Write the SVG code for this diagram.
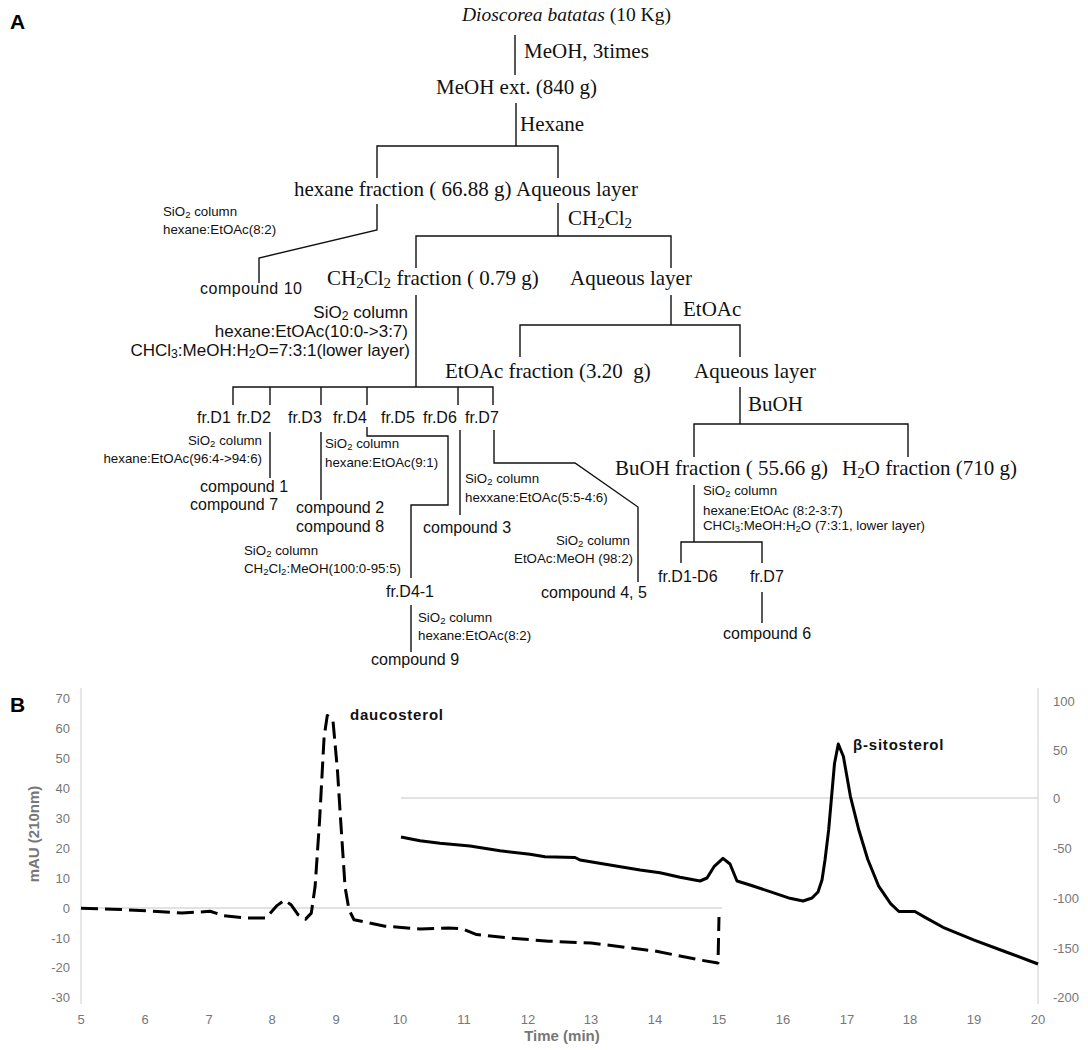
<svg xmlns="http://www.w3.org/2000/svg" width="1088" height="1050" viewBox="0 0 1088 1050">
<style>
.tm{font-family:"Liberation Serif","Times New Roman",serif;font-size:21px;fill:#111;white-space:pre}
.tm19{font-family:"Liberation Serif","Times New Roman",serif;font-size:19.5px;fill:#111}
.ar{font-family:"Liberation Sans",Arial,sans-serif;font-size:16px;fill:#111}
.ar17{font-family:"Liberation Sans",Arial,sans-serif;font-size:17px;fill:#111}
.sm{font-family:"Liberation Sans",Arial,sans-serif;font-size:13.3px;fill:#111}
.sub{font-size:72%;baseline-shift:-0.2em}
.lbl{font-family:"Liberation Sans",Arial,sans-serif;font-size:21px;font-weight:bold;fill:#000}
.ln{fill:none;stroke:#111;stroke-width:1.4}
.ax{font-family:"Liberation Sans",Arial,sans-serif;font-size:13px;fill:#777}
.axt{font-family:"Liberation Sans",Arial,sans-serif;font-size:15px;font-weight:bold;fill:#777}
.grid{stroke:#d9d9d9;stroke-width:1.3;fill:none}
.pk{font-family:"Liberation Sans",Arial,sans-serif;font-size:15px;font-weight:bold;fill:#111;letter-spacing:0.8px}
</style>
<rect width="1088" height="1050" fill="#fff"/>
<text class="lbl" x="10" y="29">A</text>
<text class="lbl" x="10" y="712">B</text>

<g id="connectors">
<path class="ln" d="M515 35V75"/>
<path class="ln" d="M516 103V146M377 178V146H558V178"/>
<path class="ln" d="M377 204V230L259 258V283"/>
<path class="ln" d="M558 203V236M416 268V236H671V268"/>
<path class="ln" d="M671 295V325M520 357V325H740V357"/>
<path class="ln" d="M740 387V424M694 457V424H908V457"/>
<path class="ln" d="M416 295V387M233 405V387H493V405M270 387V405M321 387V405M367 387V405M458 387V405"/>
<path class="ln" d="M270 432V478"/>
<path class="ln" d="M321 432V500"/>
<path class="ln" d="M367 427V436H448V505H411V578"/>
<path class="ln" d="M411 605V652"/>
<path class="ln" d="M460 430V515"/>
<path class="ln" d="M494 430V463H575L638 507V582"/>
<path class="ln" d="M694 485V542M681 563V542H762V563"/>
<path class="ln" d="M762 592V623"/>
</g>

<g id="n-dioscorea"><text class="tm19" x="462" y="21"><tspan font-style="italic">Dioscorea batatas</tspan> (10 Kg)</text></g>
<g id="e-meoh3"><text class="tm" x="524" y="58">MeOH, 3times</text></g>
<g id="n-meohext"><text class="tm" x="436" y="94">MeOH ext. (840 g)</text></g>
<g id="e-hexane"><text class="tm" x="520" y="131">Hexane</text></g>
<g id="n-hexfr"><text class="tm" x="294" y="196">hexane fraction ( 66.88 g)</text></g>
<g id="n-aq1"><text class="tm" x="516" y="196">Aqueous layer</text></g>
<g id="e-hex-col"><text class="sm" x="163" y="216">SiO<tspan class="sub">2</tspan> column</text><text class="sm" x="163" y="234">hexane:EtOAc(8:2)</text></g>
<g id="n-c10"><text class="ar" x="200" y="294" letter-spacing="0.5">compound 10</text></g>
<g id="e-ch2cl2"><text class="tm" x="568" y="225">CH<tspan class="sub">2</tspan>Cl<tspan class="sub">2</tspan></text></g>
<g id="n-ch2fr"><text class="tm" x="327" y="285">CH<tspan class="sub">2</tspan>Cl<tspan class="sub">2</tspan> fraction ( 0.79 g)</text></g>
<g id="n-aq2"><text class="tm" x="570" y="285">Aqueous layer</text></g>
<g id="e-ch2-col" text-anchor="end"><text class="ar17" x="408" y="318">SiO<tspan class="sub">2</tspan> column</text><text class="ar17" x="408" y="337">hexane:EtOAc(10:0-&gt;3:7)</text><text class="ar17" x="410" y="356">CHCl<tspan class="sub">3</tspan>:MeOH:H<tspan class="sub">2</tspan>O=7:3:1(lower layer)</text></g>
<g id="e-etoac"><text class="tm" x="683" y="316">EtOAc</text></g>
<g id="n-etfr"><text class="tm" x="445" y="378">EtOAc fraction (3.20  g)</text></g>
<g id="n-aq3"><text class="tm" x="694" y="378">Aqueous layer</text></g>
<g id="e-buoh"><text class="tm" x="748" y="411">BuOH</text></g>
<g id="n-bufr"><text class="tm" x="615" y="475">BuOH fraction ( 55.66 g)</text></g>
<g id="n-h2o"><text class="tm" x="842" y="475">H<tspan class="sub">2</tspan>O fraction (710 g)</text></g>

<g id="n-frD"><text class="ar" x="197" y="423">fr.D1</text><text class="ar" x="237" y="423">fr.D2</text><text class="ar" x="288" y="423">fr.D3</text><text class="ar" x="333" y="423">fr.D4</text><text class="ar" x="381" y="423">fr.D5</text><text class="ar" x="423" y="423">fr.D6</text><text class="ar" x="465" y="423">fr.D7</text></g>
<g id="e-d2-col" text-anchor="end"><text class="sm" x="262" y="445">SiO<tspan class="sub">2</tspan> column</text><text class="sm" x="262" y="463">hexane:EtOAc(96:4-&gt;94:6)</text></g>
<g id="n-c1-7"><text class="ar" x="200" y="492">compound 1</text><text class="ar" x="190" y="510">compound 7</text></g>
<g id="e-d3-col"><text class="sm" x="325" y="448">SiO<tspan class="sub">2</tspan> column</text><text class="sm" x="325" y="467">hexane:EtOAc(9:1)</text></g>
<g id="n-c2-8"><text class="ar" x="296" y="513">compound 2</text><text class="ar" x="296" y="532">compound 8</text></g>
<g id="e-d4-col"><text class="sm" x="244" y="555">SiO<tspan class="sub">2</tspan> column</text><text class="sm" x="244" y="573">CH<tspan class="sub">2</tspan>Cl<tspan class="sub">2</tspan>:MeOH(100:0-95:5)</text></g>
<g id="n-d41"><text class="ar" x="386" y="597">fr.D4-1</text></g>
<g id="e-d41-col"><text class="sm" x="418" y="622">SiO<tspan class="sub">2</tspan> column</text><text class="sm" x="418" y="640">hexane:EtOAc(8:2)</text></g>
<g id="n-c9"><text class="ar" x="371" y="665">compound 9</text></g>
<g id="e-d6-col"><text class="sm" x="465" y="483">SiO<tspan class="sub">2</tspan> column</text><text class="sm" x="465" y="502">hexxane:EtOAc(5:5-4:6)</text></g>
<g id="n-c3"><text class="ar" x="423" y="533">compound 3</text></g>
<g id="e-d7-col" text-anchor="end"><text class="sm" x="630" y="545">SiO<tspan class="sub">2</tspan> column</text><text class="sm" x="633" y="563">EtOAc:MeOH (98:2)</text></g>
<g id="n-c45"><text class="ar" x="541" y="598">compound 4, 5</text></g>
<g id="e-bu-col"><text class="sm" x="703" y="495">SiO<tspan class="sub">2</tspan> column</text><text class="sm" x="703" y="515">hexane:EtOAc (8:2-3:7)</text><text class="sm" x="703" y="530">CHCl<tspan class="sub">3</tspan>:MeOH:H<tspan class="sub">2</tspan>O (7:3:1, lower layer)</text></g>
<g id="n-bu-fr"><text class="ar" x="658" y="582">fr.D1-D6</text><text class="ar" x="750" y="582">fr.D7</text></g>
<g id="n-c6"><text class="ar" x="723" y="639">compound 6</text></g>

<g id="chart">
<path class="grid" d="M81 688V1004M1038 688V1004M81 908H722M401 798H1038"/>
<g class="ax" text-anchor="end">
<text x="70" y="703">70</text><text x="70" y="733">60</text><text x="70" y="763">50</text><text x="70" y="793">40</text><text x="70" y="823">30</text><text x="70" y="853">20</text><text x="70" y="883">10</text><text x="70" y="913">0</text><text x="70" y="943">-10</text><text x="70" y="972">-20</text><text x="70" y="1002">-30</text>
</g>
<g class="ax">
<text x="1053" y="706">100</text><text x="1053" y="755">50</text><text x="1053" y="803">0</text><text x="1053" y="853">-50</text><text x="1053" y="903">-100</text><text x="1053" y="953">-150</text><text x="1053" y="1002">-200</text>
</g>
<g class="ax" text-anchor="middle">
<text x="81" y="1024">5</text><text x="145" y="1024">6</text><text x="209" y="1024">7</text><text x="272" y="1024">8</text><text x="336" y="1024">9</text><text x="400" y="1024">10</text><text x="464" y="1024">11</text><text x="528" y="1024">12</text><text x="591" y="1024">13</text><text x="655" y="1024">14</text><text x="719" y="1024">15</text><text x="783" y="1024">16</text><text x="847" y="1024">17</text><text x="910" y="1024">18</text><text x="974" y="1024">19</text><text x="1038" y="1024">20</text>
</g>
<text class="axt" x="562" y="1041" text-anchor="middle">Time (min)</text>
<text class="axt" transform="translate(39 834) rotate(-90)" text-anchor="middle">mAU (210nm)</text>
<path fill="none" stroke="#000" stroke-width="3" stroke-dasharray="17 7" stroke-linejoin="round" d="M81 908.3L113 909.2L140 910.4L182 913.1L210 911.3L224 915.8L245 917.9L266 917.9L277 905.6L284.5 900.2L291 904.7L298 914.6L305.6 919.1L311.3 913.1L315.1 886.5L319.6 820.1L324.1 737L327.3 715.4L333 720.8L337.5 771L340.7 821L345.1 887.4L349 909.8L354 919.7L385 926.2L420 928.9L448.5 928L462.5 928.9L476.6 934.6L508.5 937.9L548.7 941.2L591 943L655 951L700 960L718 963L719 917"/>
<path fill="none" stroke="#000" stroke-width="3" stroke-linejoin="round" d="M401 837L420 840.7L440 843.3L470 846L500 850.7L530 854.3L545 856.7L575 857.5L580 860L640 870L660 872.7L680 877.3L700 881L707 878L714 866.7L723 858.3L730 864L737 881L750 885L770 891.7L790 898.3L803 901L812 898L818 892L822 880L825 860L828.7 829.5L834.5 763.5L838.3 744L843.4 756.5L850.4 796.3L858.7 829.5L867.7 859.2L878.5 885.8L890.6 903.6L898.9 911.5L914.9 911.5L925.1 917.4L943 927.3L974.2 940.1L1006.1 952L1038 964"/>
<text class="pk" x="350" y="720">daucosterol</text>
<text class="pk" x="853" y="750">β-sitosterol</text>
</g>
</svg>
